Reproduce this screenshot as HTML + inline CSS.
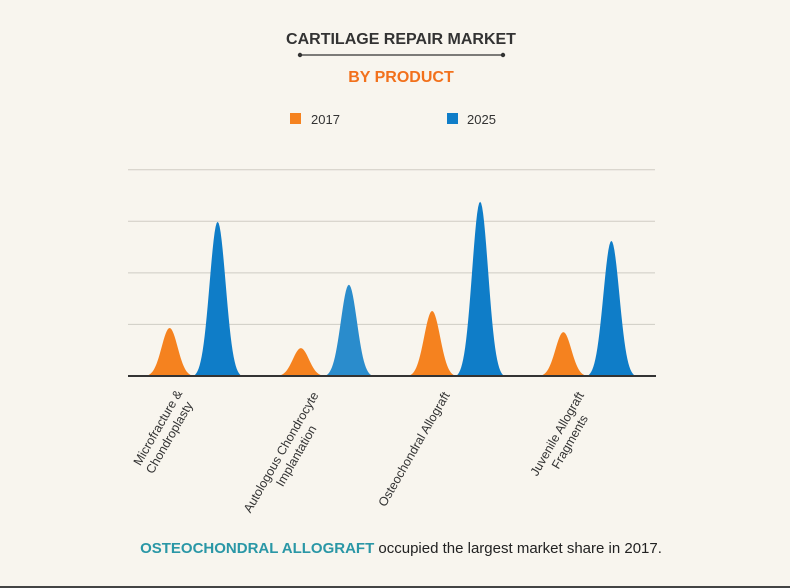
<!DOCTYPE html>
<html><head><meta charset="utf-8"><style>
html,body{margin:0;padding:0;background:#f8f5ee;}
svg{display:block;font-family:"Liberation Sans",sans-serif;}
</style></head><body>
<svg width="790" height="588" viewBox="0 0 790 588">
<rect x="0" y="0" width="790" height="588" fill="#f8f5ee"/>
<text x="401" y="44" text-anchor="middle" font-size="16" font-weight="bold" fill="#333">CARTILAGE REPAIR MARKET</text>
<line x1="300" y1="55" x2="503" y2="55" stroke="#333" stroke-width="1.2"/>
<circle cx="300" cy="55" r="2.2" fill="#333"/>
<circle cx="503" cy="55" r="2.2" fill="#333"/>
<text x="401" y="82" text-anchor="middle" font-size="16" font-weight="bold" fill="#f2711c">BY PRODUCT</text>
<g>
<rect x="290" y="113" width="11" height="11" fill="#f5821f"/>
<text x="311" y="124" font-size="13" fill="#333">2017</text>
<rect x="447" y="113" width="11" height="11" fill="#0f7dc8"/>
<text x="467" y="124" font-size="13" fill="#333">2025</text>
</g>
<g id="plot"></g>
<text x="401" y="553" text-anchor="middle" font-size="15" fill="#222"><tspan font-weight="bold" fill="#2a97a6">OSTEOCHONDRAL ALLOGRAFT</tspan> occupied the largest market share in 2017.</text>
<rect x="0" y="586" width="790" height="2" fill="#444"/>
</svg>
<script>
const categories = [["Microfracture &","Chondroplasty"],["Autologous Chondrocyte","Implantation"],["Osteochondral Allograft"],["Juvenile Allograft","Fragments"]];
const series2017 = [9.3, 5.4, 12.6, 8.5];
const series2025 = [29.9, 17.7, 33.8, 26.2];
const yTicks = [0, 10, 20, 30, 40];

const NS = "http://www.w3.org/2000/svg";
const plot = document.getElementById('plot');
const x0 = 130, x1 = 655, yBase = 376, yMax = 41.5, yTop = 162;
const band = (x1 - x0) / categories.length;
const xCenter = i => x0 + band * (i + 0.5);
const yScale = v => yBase - (v / yMax) * (yBase - yTop);

yTicks.slice(1).forEach(t => {
  const l = document.createElementNS(NS, 'line');
  l.setAttribute('x1', 128); l.setAttribute('x2', 655);
  l.setAttribute('y1', yScale(t)); l.setAttribute('y2', yScale(t));
  l.setAttribute('stroke', '#cfccc4'); l.setAttribute('stroke-width', '1');
  
  
  plot.appendChild(l);
});

function peak(cx, v, color, name) {
  const top = yScale(v), h = yBase - top, half = 24, s = 8;
  let d = `M${cx - half},${yBase}`;
  for (let k = -half; k <= half; k += 1) {
    const g = Math.exp(-(k * k) / (2 * s * s));
    const e = Math.exp(-(half * half) / (2 * s * s));
    d += ` L${cx + k},${yBase - h * (g - e) / (1 - e)}`;
  }
  d += ' Z';
  const p = document.createElementNS(NS, 'path');
  p.setAttribute('d', d); p.setAttribute('fill', color);
  
  
  plot.appendChild(p);
}
categories.forEach((c, i) => {
  peak(xCenter(i) - 26, series2017[i], '#f5821f', 'peak-2017-' + (i + 1));
  peak(xCenter(i) + 22, series2025[i], i === 1 ? '#2a8ccc' : '#0f7dc8', 'peak-2025-' + (i + 1));
});

const ax = document.createElementNS(NS, 'line');
ax.setAttribute('x1', 128); ax.setAttribute('x2', 656);
ax.setAttribute('y1', yBase); ax.setAttribute('y2', yBase);
ax.setAttribute('stroke', '#333'); ax.setAttribute('stroke-width', '2');


plot.appendChild(ax);

const labelEnds = [[-8, 393, -5], [-3, 395, -30], [-3, 395, 0], [0, 395, -18]];
categories.forEach((lines, i) => {
  const g = document.createElementNS(NS, 'g');
  const [dx, ey, a2] = labelEnds[i];
  g.setAttribute('transform', `translate(${xCenter(i) - 5 + dx},${ey}) rotate(-60)`);
  
  
  lines.forEach((ln, j) => {
    const t = document.createElementNS(NS, 'text');
    t.setAttribute('x', j === 0 ? 0 : a2);
    t.setAttribute('y', j * 15);
    t.setAttribute('text-anchor', 'end');
    t.setAttribute('font-size', '12.5');
    t.setAttribute('fill', '#333');
    
    
    t.textContent = ln;
    g.appendChild(t);
  });
  plot.appendChild(g);
});
</script>
</body></html>
